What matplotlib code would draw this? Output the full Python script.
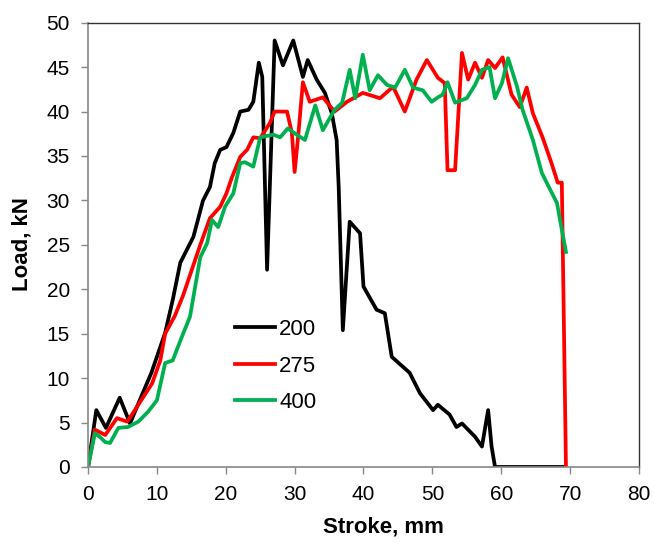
import numpy as np
import matplotlib
matplotlib.use("Agg")
import matplotlib.pyplot as plt

plt.rcParams['font.family'] = ['Liberation Sans', 'DejaVu Sans']

# stroke (mm) / load (kN)
x200 = [0, 1.2, 2.6, 4.6, 6.1, 7.5, 9.2, 11.2, 12.3, 13.4, 15.3, 16.7, 17.7, 18.4, 19.2, 20.1,
        21.1, 22.1, 23.3, 24.0, 24.8, 25.3, 26.0, 27.1, 28.3, 29.8, 31.2, 31.9, 33.2, 34.4,
        35.4, 36.1, 36.4, 37.0, 38.0, 39.5, 40.0, 41.9, 43.1, 44.1, 46.7, 48.2, 50.1, 50.8,
        52.5, 53.5, 54.3, 56.2, 57.2, 58.1, 58.6, 59.1, 69.0]
y200 = [0, 6.4, 4.4, 7.8, 4.9, 7.5, 10.6, 15.1, 18.8, 23.0, 25.9, 30.0, 31.5, 34.2, 35.7, 36.0,
        37.6, 40.0, 40.2, 41.1, 45.5, 43.9, 22.2, 48.0, 45.2, 48.0, 43.9, 45.8, 43.6, 42.1,
        39.8, 36.8, 31.5, 15.4, 27.6, 26.3, 20.3, 17.7, 17.3, 12.4, 10.6, 8.3, 6.4, 7.0,
        5.9, 4.5, 4.9, 3.4, 2.3, 6.4, 2.3, 0, 0]

x275 = [0, 1.0, 2.5, 4.2, 5.7, 6.8, 9.3, 10.5, 11.2, 12.6, 13.8, 16.3, 17.7, 19.2, 20.1, 20.9,
        22.1, 23.1, 24.0, 25.0, 26.4, 27.1, 28.9, 29.6, 30.0, 30.5, 31.2, 32.2, 34.1, 35.8,
        37.6, 39.9, 42.4, 44.3, 46.0, 47.7, 49.2, 50.8, 51.8, 52.2, 53.3, 54.3, 55.2, 56.2,
        57.2, 58.1, 59.1, 60.2, 61.5, 62.7, 63.7, 64.6, 66.0, 67.3, 68.2, 68.8, 69.4]
y275 = [0, 4.2, 3.6, 5.5, 5.1, 6.4, 9.4, 12.0, 15.0, 17.0, 19.3, 25.0, 28.0, 29.3, 30.8, 32.6,
        34.9, 35.7, 37.1, 37.0, 38.7, 40.0, 40.0, 37.6, 33.2, 37.1, 43.3, 41.1, 41.6, 40.0,
        41.1, 42.1, 41.5, 42.8, 40.0, 43.6, 45.8, 43.8, 43.2, 33.4, 33.4, 46.6, 43.6, 45.5,
        43.8, 45.8, 44.9, 46.1, 41.9, 40.5, 42.7, 39.8, 37.1, 34.2, 32.0, 32.0, 0]

x400 = [0, 1.0, 1.7, 2.5, 3.2, 4.4, 5.8, 7.3, 8.7, 10.0, 11.2, 12.3, 13.6, 14.8, 16.3, 17.3,
        18.0, 18.9, 19.9, 21.1, 22.1, 22.8, 24.0, 25.0, 26.9, 27.9, 29.0, 30.3, 31.5, 33.0,
        34.1, 35.8, 36.9, 38.0, 38.8, 39.9, 40.9, 42.1, 43.4, 44.6, 46.0, 47.2, 48.6, 49.9,
        50.8, 51.5, 52.2, 53.3, 54.3, 55.0, 56.2, 57.2, 58.3, 59.1, 60.1, 61.0, 62.3, 63.1,
        64.6, 65.9, 66.6, 68.1, 68.8, 69.4]
y400 = [0, 3.8, 3.4, 2.8, 2.7, 4.4, 4.5, 5.1, 6.2, 7.5, 11.7, 12.0, 14.6, 16.9, 23.6, 25.2,
        27.8, 27.0, 29.3, 30.8, 34.2, 34.3, 33.8, 37.1, 37.4, 37.1, 38.1, 37.4, 36.8, 40.7,
        37.9, 40.2, 41.0, 44.7, 41.5, 46.4, 42.4, 44.1, 43.0, 42.7, 44.7, 42.7, 42.4, 41.1,
        41.6, 41.9, 43.3, 41.0, 41.3, 41.5, 43.0, 44.7, 45.0, 41.5, 43.2, 46.0, 42.8, 40.2,
        36.8, 33.1, 32.0, 29.7, 26.7, 24.2]

fig = plt.figure(figsize=(6.54, 5.42), dpi=100)
ax = fig.add_axes([0.1346, 0.1384, 0.8424, 0.8197])

ax.plot(x200, y200, color='black', lw=2.7, label='200', solid_joinstyle='round')
ax.plot(x275, y275, color='#ff0000', lw=2.7, label='275', solid_joinstyle='round')
ax.plot(x400, y400, color='#00b050', lw=2.7, label='400', solid_joinstyle='round')

ax.set_xlim(0, 80)
ax.set_ylim(0, 50)
ax.set_xticks(np.arange(0, 81, 10))
ax.set_yticks(np.arange(0, 51, 5))

for s in ['left', 'bottom']:
    ax.spines[s].set_color('#888888')
    ax.spines[s].set_linewidth(1.2)
for s in ['top', 'right']:
    ax.spines[s].set_color('#333333')
    ax.spines[s].set_linewidth(1.0)

ax.tick_params(axis='both', direction='out', length=5, width=1, color='#888888', labelsize=15)
ax.tick_params(axis='x', pad=8)
ax.tick_params(axis='y', pad=8)

ax.set_xlabel('Stroke, mm', fontsize=16, fontweight='bold')
ax.set_ylabel('Load, kN', fontsize=16, fontweight='bold')
ax.xaxis.set_label_coords(0.537, -0.112)
ax.yaxis.set_label_coords(-0.1, 0.502)

ax.legend(loc='center left', bbox_to_anchor=(0.25, 0.227), frameon=False, fontsize=16,
          handlelength=1.8, handletextpad=0.2, labelspacing=0.7, borderaxespad=0)

plt.savefig('out.png', dpi=100)
